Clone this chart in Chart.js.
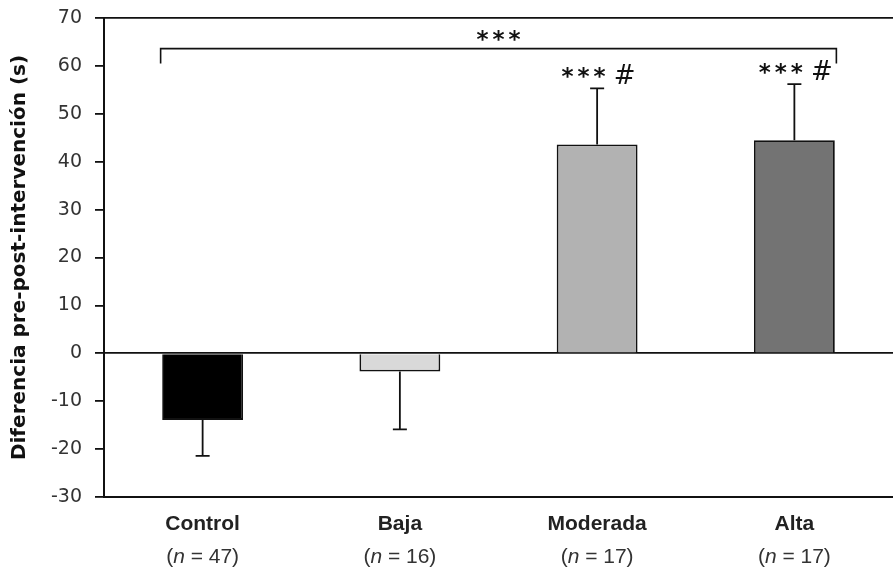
<!DOCTYPE html>
<html>
<head>
<meta charset="utf-8">
<script src="https://cdn.jsdelivr.net/npm/chart.js@4.4.1/dist/chart.umd.min.js"></script>
<style>
  html, body { margin: 0; padding: 0; background: #fff; }
  #wrap { width: 893px; height: 570px; position: relative; }
</style>
</head>
<body>
<div id="wrap"><canvas id="c" width="893" height="570"></canvas></div>
<script>
// Groups and sample sizes
const categories = ['Control', 'Baja', 'Moderada', 'Alta'];
const groupSizes = [47, 16, 17, 17];
// Mean pre-post difference (s) and its dispersion
const meanDiff = [-13.9, -3.8, 43.6, 44.5];
const errorSD = [7.5, 12.1, 11.7, 11.7];
// Significance marks above each bar
const sigMarks = ['', '', '*** #', '*** #'];
// Overall comparison bracket: from group index to group index, level, leg end, label
const bracketFrom = 0;
const bracketTo = 3;
const bracketLevel = 63.6;
const bracketLegEnd = 60.5;
const bracketLabel = '***';
// Y axis range
const yMin = -30, yMax = 70, yStep = 10;

const barFill = ['#000000', '#d9d9d9', '#b2b2b2', '#737373'];

// Lays out a mark string glyph by glyph (wide asterisks, spaced hash) centred on cx
function drawMarks(ctx, text, cx, baseY) {
  const adv = ch => ch === '*' ? 16 : ch === '#' ? 20 : 7;
  const total = [...text].reduce((s, ch) => s + adv(ch), 0);
  let x = cx - total / 2;
  ctx.textAlign = 'center';
  ctx.textBaseline = 'alphabetic';
  for (const ch of text) {
    const w = adv(ch);
    if (ch === '*') { ctx.font = 'bold 23px "DejaVu Sans"'; ctx.fillText(ch, x + w / 2, baseY); }
    else if (ch === '#') { ctx.font = '26px "DejaVu Sans"'; ctx.fillText(ch, x + w / 2, baseY); }
    x += w;
  }
}

const overlay = {
  id: 'overlay',
  afterDatasetsDraw(chart) {
    const ctx = chart.ctx;
    const x = chart.scales.x, y = chart.scales.y;
    ctx.save();
    // error bars, drawn away from zero
    ctx.strokeStyle = '#111';
    ctx.lineWidth = 1.8;
    meanDiff.forEach((m, i) => {
      const end = m >= 0 ? m + errorSD[i] : m - errorSD[i];
      const px = x.getPixelForValue(i);
      const y0 = y.getPixelForValue(m), y1 = y.getPixelForValue(end);
      ctx.beginPath();
      ctx.moveTo(px, y0); ctx.lineTo(px, y1);
      ctx.moveTo(px - 7, y1); ctx.lineTo(px + 7, y1);
      ctx.stroke();
    });
    // significance marks
    ctx.fillStyle = '#111';
    sigMarks.forEach((s, i) => {
      if (!s) return;
      const end = meanDiff[i] + errorSD[i];
      drawMarks(ctx, s, x.getPixelForValue(i), y.getPixelForValue(end) - 4);
    });
    // bracket
    const bx0 = x.getPixelForValue(bracketFrom) - 42;
    const bx1 = x.getPixelForValue(bracketTo) + 42;
    const by = y.getPixelForValue(bracketLevel);
    const byl = y.getPixelForValue(bracketLegEnd);
    ctx.lineWidth = 1.6;
    ctx.beginPath();
    ctx.moveTo(bx0, byl); ctx.lineTo(bx0, by); ctx.lineTo(bx1, by); ctx.lineTo(bx1, byl);
    ctx.stroke();
    drawMarks(ctx, bracketLabel, (bx0 + bx1) / 2, by - 1.5);
    // category labels with group sizes
    categories.forEach((c, i) => {
      const px = x.getPixelForValue(i);
      ctx.font = 'bold 21px "Liberation Sans"';
      ctx.fillStyle = '#222';
      ctx.textAlign = 'center';
      ctx.fillText(c, px, 530);
      const parts = [
        ['(', '21px "Liberation Sans"'],
        ['n', 'italic 21px "Liberation Sans"'],
        [' = ' + groupSizes[i] + ')', '21px "Liberation Sans"']
      ];
      let total = 0;
      parts.forEach(p => { ctx.font = p[1]; total += ctx.measureText(p[0]).width; });
      let cx = px - total / 2;
      ctx.textAlign = 'left';
      ctx.fillStyle = '#333';
      parts.forEach(p => { ctx.font = p[1]; ctx.fillText(p[0], cx, 563); cx += ctx.measureText(p[0]).width; });
    });
    ctx.restore();
  }
};

new Chart(document.getElementById('c'), {
  type: 'bar',
  data: {
    labels: categories,
    datasets: [{
      data: meanDiff,
      backgroundColor: barFill,
      borderColor: '#111',
      borderWidth: 1.8,
      barPercentage: 1,
      categoryPercentage: 0.41
    }]
  },
  options: {
    responsive: false,
    animation: false,
    layout: { padding: { top: 18, right: 0, left: 0, bottom: 0 } },
    plugins: { legend: { display: false }, tooltip: { enabled: false } },
    scales: {
      x: {
        ticks: { display: false },
        grid: { display: false },
        border: { display: true, color: '#111', width: 2 },
        afterFit(s) { s.height = 73; }
      },
      y: {
        min: yMin, max: yMax,
        ticks: {
          stepSize: yStep,
          color: '#333',
          padding: 13,
          font: { family: '"DejaVu Sans"', size: 19 }
        },
        grid: {
          color: ctx => (ctx.tick && (ctx.tick.value === 0 || ctx.tick.value === yMax)) ? '#111' : 'rgba(0,0,0,0)',
          tickColor: '#111',
          tickLength: 9,
          lineWidth: 1.8
        },
        border: { display: true, color: '#111', width: 2 },
        title: {
          display: true,
          text: 'Diferencia pre-post-intervención (s)',
          color: '#111',
          font: { family: '"DejaVu Sans"', size: 20, weight: 'bold' },
          padding: { top: 8, bottom: 0 }
        },
        afterFit(s) { s.width = 104; s.paddingTop = 0; s.paddingBottom = 0; }
      }
    }
  },
  plugins: [overlay]
});
</script>
</body>
</html>
